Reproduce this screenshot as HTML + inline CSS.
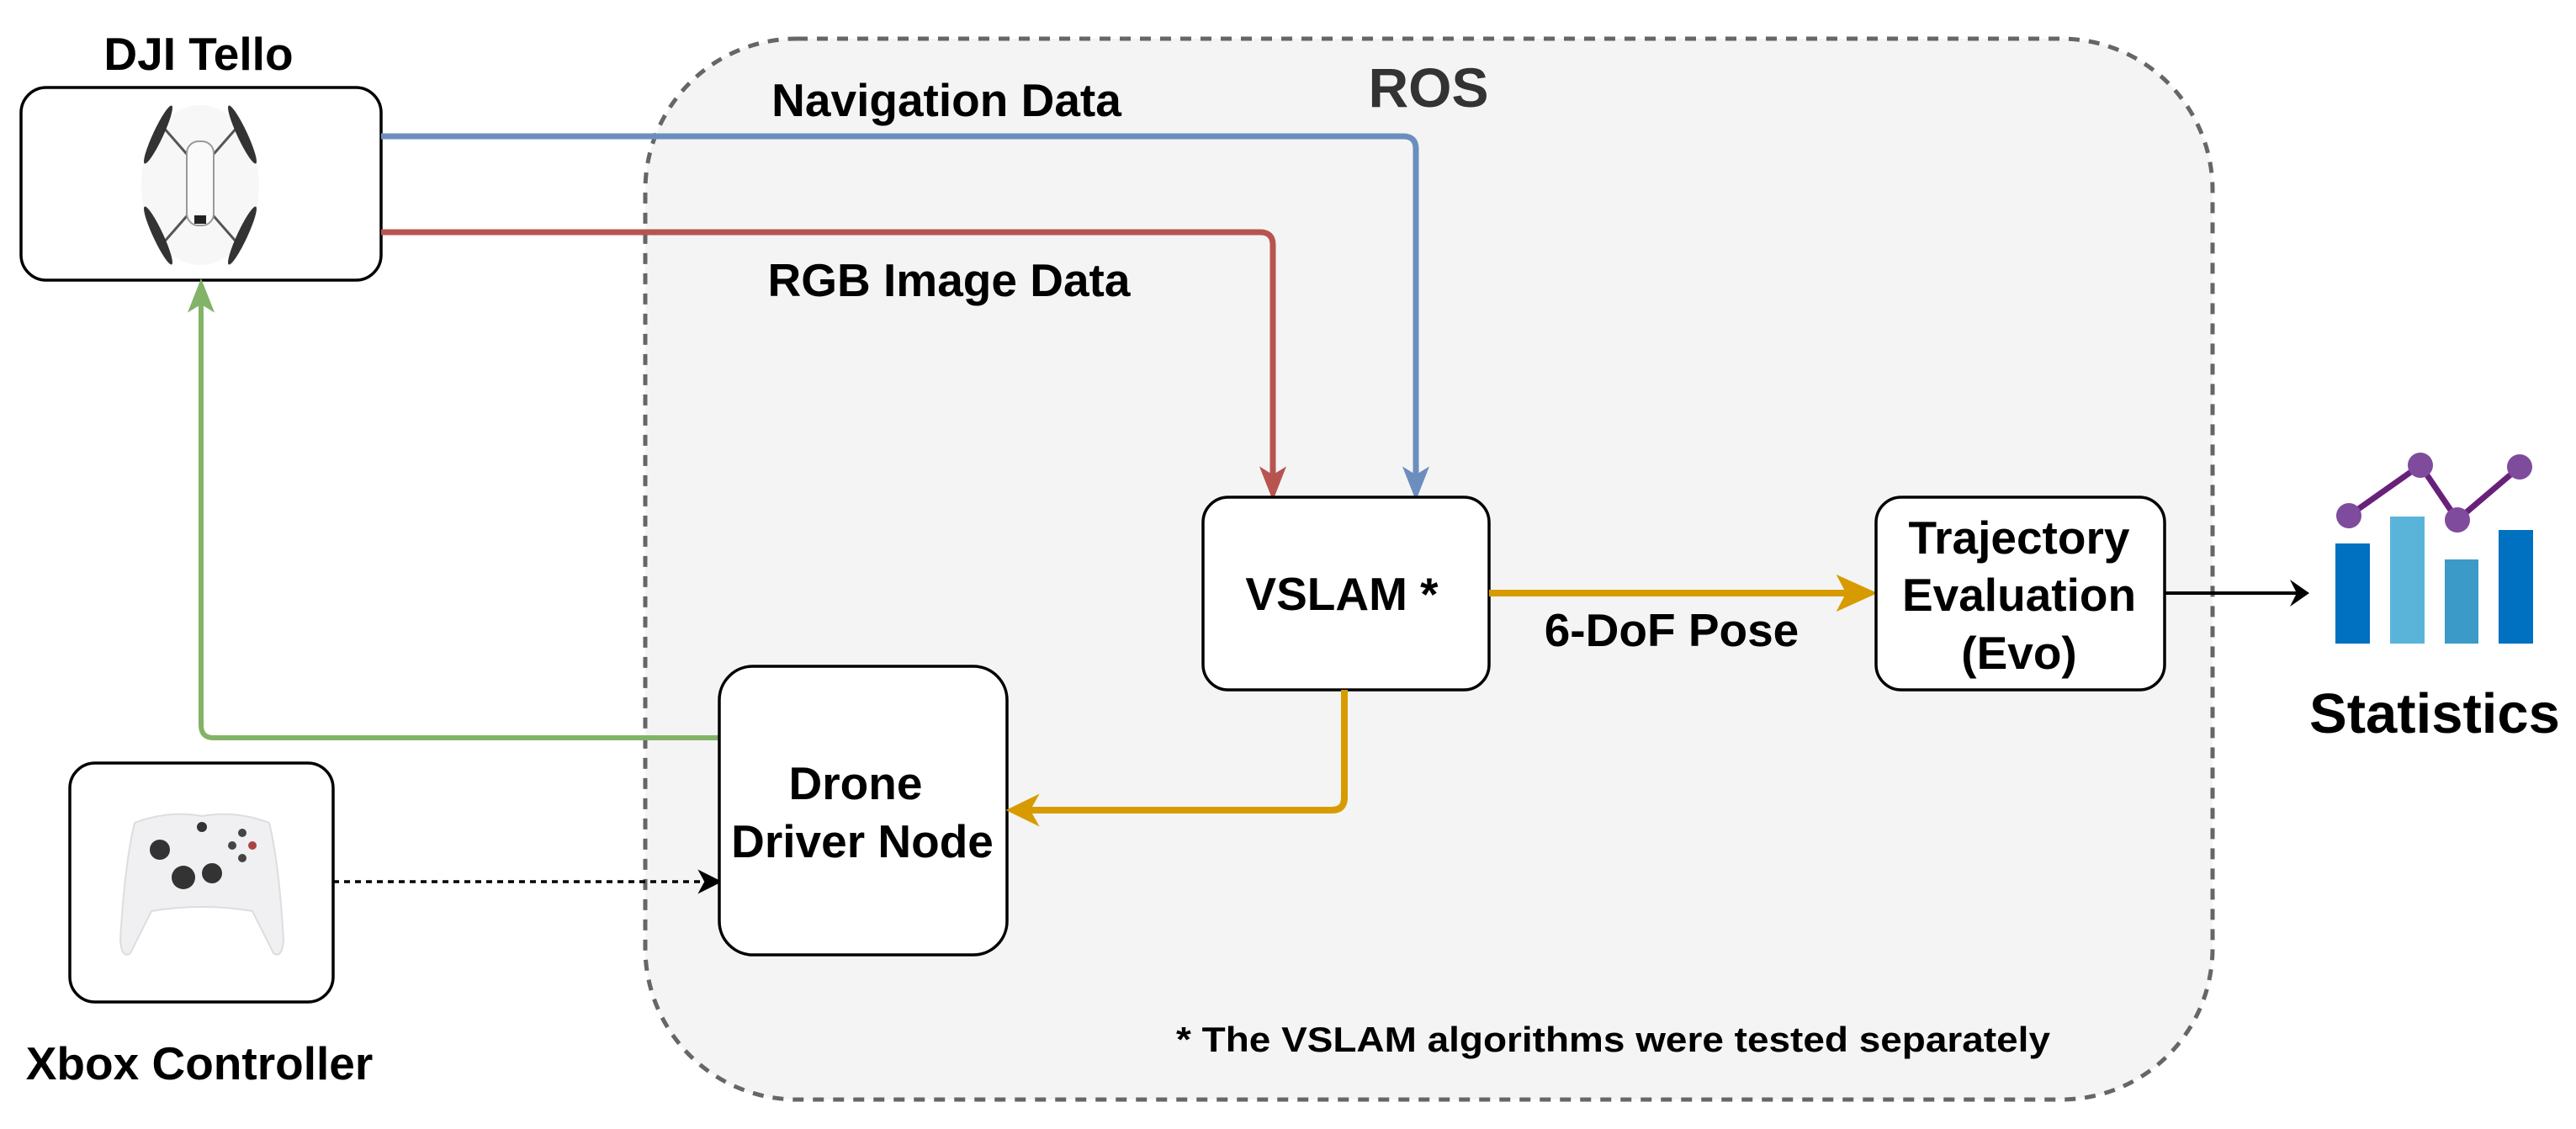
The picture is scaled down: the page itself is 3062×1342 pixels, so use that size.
<!DOCTYPE html>
<html><head><meta charset="utf-8"><style>
html,body{margin:0;padding:0;background:#fff;}
svg{display:block;}
text{font-family:"Liberation Sans",Arial,sans-serif;font-weight:bold;}
</style></head><body>
<svg width="3062" height="1342" viewBox="0 0 3062 1342" xmlns="http://www.w3.org/2000/svg">
<!-- ROS container -->
<rect x="767" y="46" width="1863" height="1261" rx="180" ry="180" fill="#f4f4f4" stroke="#666" stroke-width="5" stroke-dasharray="13 11"/>
<text x="1698" y="127" font-size="66" fill="#333" text-anchor="middle">ROS</text>

<!-- DJI Tello -->
<text x="236" y="83" font-size="55" text-anchor="middle">DJI Tello</text>
<rect x="25" y="104" width="428" height="229" rx="30" fill="#fff" stroke="#000" stroke-width="3.5"/>
<g transform="translate(238,220)">
  <ellipse cx="0" cy="0" rx="70" ry="95" fill="#f2f2f2" opacity="0.6"/>
  <g stroke="#555" stroke-width="3" fill="none">
    <line x1="-10" y1="-30" x2="-45" y2="-70"/><line x1="10" y1="-30" x2="45" y2="-70"/>
    <line x1="-10" y1="30" x2="-45" y2="70"/><line x1="10" y1="30" x2="45" y2="70"/>
  </g>
  <g fill="#333">
    <ellipse cx="-50" cy="-60" rx="6" ry="38" transform="rotate(25 -50 -60)"/>
    <ellipse cx="50" cy="-60" rx="6" ry="38" transform="rotate(-25 50 -60)"/>
    <ellipse cx="-50" cy="60" rx="6" ry="38" transform="rotate(-25 -50 60)"/>
    <ellipse cx="50" cy="60" rx="6" ry="38" transform="rotate(25 50 60)"/>
  </g>
  <rect x="-16" y="-52" width="32" height="100" rx="14" fill="#fafafa" stroke="#999" stroke-width="2"/>
  <rect x="-7" y="36" width="14" height="10" fill="#222"/>
</g>

<!-- Xbox controller -->
<rect x="83" y="907" width="313" height="284" rx="30" fill="#fff" stroke="#000" stroke-width="3.5"/>
<g transform="translate(240,1048)">
  <path d="M-80,-70 Q-40,-85 0,-78 Q40,-85 80,-70 Q92,-20 97,70 Q95,92 85,85 L60,35 Q0,25 -60,35 L-85,85 Q-95,92 -97,70 Q-92,-20 -80,-70 Z" fill="#f0f0f2" stroke="#ddd" stroke-width="2"/>
  <circle cx="-50" cy="-38" r="12" fill="#333"/>
  <circle cx="-22" cy="-5" r="14" fill="#333"/>
  <circle cx="12" cy="-10" r="12" fill="#333"/>
  <circle cx="0" cy="-65" r="6" fill="#333"/>
  <circle cx="48" cy="-58" r="5" fill="#444"/><circle cx="36" cy="-43" r="5" fill="#444"/>
  <circle cx="60" cy="-43" r="5" fill="#a44"/><circle cx="48" cy="-28" r="5" fill="#444"/>
</g>
<text x="237" y="1283" font-size="55" text-anchor="middle">Xbox Controller</text>

<!-- Blue line Navigation Data -->
<path d="M453,162 H1668 Q1683,162 1683,177 V575" fill="none" stroke="#6c8ebf" stroke-width="7"/>
<path d="M1683,591 L1670,558 L1683,566 L1696,558 Z" fill="#6c8ebf" stroke="#6c8ebf" stroke-width="3"/>
<text x="1125" y="138" font-size="55" text-anchor="middle">Navigation Data</text>

<!-- Red line RGB -->
<path d="M453,276 H1498 Q1513,276 1513,291 V575" fill="none" stroke="#b85450" stroke-width="7"/>
<path d="M1513,591 L1500,558 L1513,566 L1526,558 Z" fill="#b85450" stroke="#b85450" stroke-width="3"/>
<text x="1128" y="352" font-size="55" text-anchor="middle">RGB Image Data</text>

<!-- Green line -->
<path d="M855,877 H254 Q239,877 239,862 V350" fill="none" stroke="#82b366" stroke-width="6"/>
<path d="M239,335 L226,368 L239,360 L252,368 Z" fill="#82b366" stroke="#82b366" stroke-width="3"/>

<!-- Dotted -->
<line x1="396" y1="1048" x2="840" y2="1048" stroke="#000" stroke-width="3.5" stroke-dasharray="7 6"/>
<path d="M855,1048 L833,1037 L839,1048 L833,1059 Z" fill="#000" stroke="#000" stroke-width="3"/>

<!-- Drone Driver Node -->
<rect x="855" y="792" width="342" height="343" rx="40" fill="#fff" stroke="#000" stroke-width="3.5"/>
<text x="1017" y="950" font-size="55" text-anchor="middle">Drone</text>
<text x="1025" y="1019" font-size="55" text-anchor="middle">Driver Node</text>

<!-- VSLAM -->
<rect x="1430" y="591" width="340" height="229" rx="30" fill="#fff" stroke="#000" stroke-width="3.5"/>
<text x="1595" y="725" font-size="55" text-anchor="middle">VSLAM *</text>

<!-- orange VSLAM -> Drone -->
<path d="M1598,820 V948 Q1598,963 1583,963 H1215" fill="none" stroke="#d79b00" stroke-width="8"/>
<path d="M1199,963 L1232,947 L1223,963 L1232,979 Z" fill="#d79b00" stroke="#d79b00" stroke-width="3"/>

<!-- orange VSLAM -> Trajectory -->
<line x1="1770" y1="705" x2="2210" y2="705" stroke="#d79b00" stroke-width="8"/>
<path d="M2228,705 L2186,686 L2196,705 L2186,724 Z" fill="#d79b00" stroke="#d79b00" stroke-width="3"/>
<text x="1987" y="768" font-size="55" text-anchor="middle">6-DoF Pose</text>

<!-- Trajectory -->
<rect x="2230" y="591" width="343" height="229" rx="30" fill="#fff" stroke="#000" stroke-width="3.5"/>
<text x="2400" y="658" font-size="55" text-anchor="middle">Trajectory</text>
<text x="2400" y="726" font-size="55" text-anchor="middle">Evaluation</text>
<text x="2400" y="795" font-size="55" text-anchor="middle">(Evo)</text>

<!-- black arrow -->
<line x1="2573" y1="705" x2="2735" y2="705" stroke="#000" stroke-width="4"/>
<path d="M2745,705 L2722,689 L2730,705 L2722,721 Z" fill="#000"/>

<!-- Chart -->
<rect x="2776" y="646" width="41" height="119" fill="#0070c0"/>
<rect x="2841" y="614" width="41" height="151" fill="#5ab4da"/>
<rect x="2906" y="665" width="40" height="100" fill="#3b9ac8"/>
<rect x="2970" y="630" width="41" height="135" fill="#0070c0"/>
<polyline points="2792,613 2877,553 2921,618 2995,555" fill="none" stroke="#68217a" stroke-width="7"/>
<g fill="#7f4b9c">
<circle cx="2792" cy="613" r="15"/><circle cx="2877" cy="553" r="15"/>
<circle cx="2921" cy="618" r="15"/><circle cx="2995" cy="555" r="15"/>
</g>
<text x="2894" y="871" font-size="67" text-anchor="middle">Statistics</text>

<!-- footnote -->
<text x="1398" y="1250" font-size="42" textLength="1039" lengthAdjust="spacingAndGlyphs">* The VSLAM algorithms were tested separately</text>
</svg>
</body></html>
